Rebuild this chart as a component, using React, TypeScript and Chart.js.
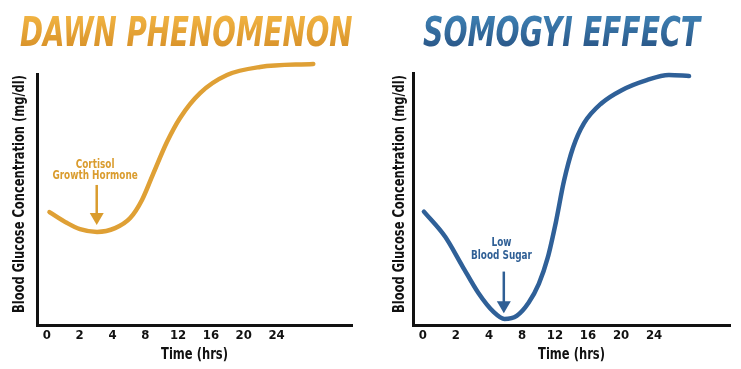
import React, { useEffect, useRef } from 'react';
import { Chart, registerables } from 'chart.js';

Chart.register(...registerables);

// ---- data ----
const tickLabels = ['0', '2', '4', '8', '12', '16', '20', '24'];

// x values are positions along the (evenly spaced) tick slots: 0 -> "0", 1 -> "2", 2 -> "4", 3 -> "8" ...
const dawnX = [0.08, 0.62, 1.01, 1.53, 2.08, 2.54, 2.9, 3.24, 3.66, 4.06, 4.67, 5.49, 6.5, 8.12];
const dawnY = [45.0, 40.6, 38.2, 37.1, 38.6, 42.6, 49.8, 60.2, 72.9, 82.5, 92.4, 99.6, 102.8, 104.0];

const somogyiX = [0.03, 0.67, 1.19, 1.68, 2.14, 2.47, 2.84, 3.2, 3.51, 3.78, 4.03, 4.27, 4.55, 4.88, 5.41, 6.02, 6.78, 7.45, 8.06];
const somogyiY = [45.0, 35.1, 23.5, 12.7, 5.2, 2.4, 3.6, 8.8, 16.3, 26.7, 41.0, 57.0, 70.5, 80.1, 88.0, 93.2, 97.2, 99.2, 98.8];

const dawnNote = ['Cortisol', 'Growth Hormone'];
const dawnNoteY = [64.0, 59.4];
const somogyiNote = ['Low', 'Blood Sugar'];
const somogyiNoteY = [32.5, 27.5];

const xTitle = 'Time (hrs)';
const yTitle = 'Blood Glucose Concentration (mg/dl)';

const FONT = "'DejaVu Sans Condensed', 'DejaVu Sans', sans-serif";
const TITLE_FONT = "'DejaVu Sans', 'Liberation Sans', sans-serif";

function squeezed(ctx: CanvasRenderingContext2D, text: string, x: number, y: number, font: string, sx: number, rot: number) {
  ctx.save();
  ctx.font = font;
  ctx.textAlign = 'center';
  ctx.textBaseline = 'middle';
  ctx.translate(x, y);
  ctx.rotate(rot);
  ctx.scale(sx, 1);
  ctx.fillText(text, 0, 0);
  ctx.restore();
}

const artPlugin = {
  id: 'art',
  afterDraw(chart: any, _args: any, o: any) {
    if (!o || !o.title) return;
    const ctx = chart.ctx as CanvasRenderingContext2D;
    const xs = chart.scales.x;
    const ys = chart.scales.y;
    const area = chart.chartArea;

    // Title, fitted to its box
    ctx.save();
    ctx.font = `italic bold 44px ${TITLE_FONT}`;
    ctx.textAlign = 'left';
    ctx.textBaseline = 'alphabetic';
    const m = ctx.measureText(o.title);
    const w = m.actualBoundingBoxLeft + m.actualBoundingBoxRight;
    const h = m.actualBoundingBoxAscent + m.actualBoundingBoxDescent;
    ctx.translate(o.titleBox[0], o.titleBox[1]);
    ctx.scale(o.titleBox[2] / w, o.titleBox[3] / h);
    const g = ctx.createLinearGradient(0, 0, 0, h);
    g.addColorStop(0, o.titleTop);
    g.addColorStop(1, o.titleBottom);
    ctx.fillStyle = g;
    ctx.fillText(o.title, m.actualBoundingBoxLeft, m.actualBoundingBoxAscent);
    ctx.restore();

    // axis titles (condensed)
    ctx.fillStyle = '#111';
    squeezed(ctx, xTitle, (area.left + area.right) / 2, 355, `bold 16px ${FONT}`, 0.8, 0);
    squeezed(ctx, yTitle, o.yTitleX, 194, `bold 15px ${FONT}`, 0.85, -Math.PI / 2);

    // note text
    ctx.fillStyle = o.noteColor;
    const nx = xs.getPixelForValue(o.noteX);
    o.note.forEach((t: string, i: number) =>
      squeezed(ctx, t, nx, ys.getPixelForValue(o.noteY[i]), `bold 13px ${FONT}`, 0.76, 0)
    );

    // arrow
    ctx.save();
    const ax = xs.getPixelForValue(o.arrowX);
    const y0 = ys.getPixelForValue(o.arrowFrom);
    const y1 = ys.getPixelForValue(o.arrowTo);
    const headH = 12;
    ctx.strokeStyle = o.noteColor;
    ctx.fillStyle = o.noteColor;
    ctx.lineWidth = 2.5;
    ctx.beginPath();
    ctx.moveTo(ax, y0);
    ctx.lineTo(ax, y1 - headH + 1);
    ctx.stroke();
    ctx.beginPath();
    ctx.moveTo(ax - 7, y1 - headH);
    ctx.lineTo(ax + 7, y1 - headH);
    ctx.lineTo(ax, y1);
    ctx.closePath();
    ctx.fill();
    ctx.restore();
  },
};

type PanelCfg = {
  xs: number[];
  ys: number[];
  color: string;
  padTop: number;
  padRight: number;
  yWidth: number;
  art: any;
};

function Panel({ cfg, width }: { cfg: PanelCfg; width: number }) {
  const ref = useRef<HTMLCanvasElement>(null);
  useEffect(() => {
    const chart = new Chart(ref.current as HTMLCanvasElement, {
      type: 'line',
      data: {
        datasets: [
          {
            data: cfg.xs.map((x, i) => ({ x, y: cfg.ys[i] })),
            borderColor: cfg.color,
            borderWidth: 4.5,
            pointRadius: 0,
            cubicInterpolationMode: 'monotone',
            clip: false as any,
            borderCapStyle: 'round',
            borderJoinStyle: 'round',
          },
        ],
      },
      options: {
        responsive: false,
        animation: false,
        devicePixelRatio: 1,
        layout: { padding: { top: cfg.padTop, right: cfg.padRight, left: 0, bottom: 0 } },
        plugins: {
          legend: { display: false },
          tooltip: { enabled: false },
          art: cfg.art,
        } as any,
        scales: {
          x: {
            type: 'linear',
            min: -0.3,
            max: 9.3,
            grid: { display: false, drawTicks: false },
            border: { display: true, color: '#111', width: 3 },
            afterBuildTicks: (s: any) => {
              s.ticks = tickLabels.map((_, i) => ({ value: i }));
            },
            afterFit: (s: any) => {
              s.height = 44;
            },
            ticks: {
              autoSkip: false,
              maxRotation: 0,
              padding: 3,
              color: '#111',
              font: { family: FONT, size: 13, weight: 'bold' },
              callback: (v: any) => tickLabels[Math.round(Number(v))] ?? '',
            },
            title: { display: false, text: xTitle },
          },
          y: {
            type: 'linear',
            min: 0,
            max: 100,
            grid: { display: false, drawTicks: false },
            border: { display: true, color: '#111', width: 3 },
            ticks: { display: false },
            afterFit: (s: any) => {
              s.width = cfg.yWidth;
            },
            title: { display: false, text: yTitle },
          },
        },
      } as any,
      plugins: [artPlugin],
    });
    return () => chart.destroy();
  }, []);
  return <canvas ref={ref} width={width} height={369} style={{ display: 'block' }} />;
}

const dawnCfg: PanelCfg = {
  xs: dawnX,
  ys: dawnY,
  color: '#DFA035',
  padTop: 74,
  padRight: 18,
  yWidth: 37,
  art: {
    title: 'DAWN PHENOMENON',
    titleBox: [20, 14, 332, 33],
    titleTop: '#F2B544',
    titleBottom: '#D9932A',
    yTitleX: 20,
    note: dawnNote,
    noteY: dawnNoteY,
    noteX: 1.47,
    noteColor: '#DA9C2E',
    arrowX: 1.52,
    arrowFrom: 55.8,
    arrowTo: 39.8,
  },
};

const somogyiCfg: PanelCfg = {
  xs: somogyiX,
  ys: somogyiY,
  color: '#2F6098',
  padTop: 73,
  padRight: 11,
  yWidth: 43,
  art: {
    title: 'SOMOGYI EFFECT',
    titleBox: [53, 14, 279, 33],
    titleTop: '#3F82B5',
    titleBottom: '#2A5889',
    yTitleX: 30,
    note: somogyiNote,
    noteY: somogyiNoteY,
    noteX: 2.38,
    noteColor: '#2F5F95',
    arrowX: 2.45,
    arrowFrom: 21.2,
    arrowTo: 4.7,
  },
};

export default function App() {
  return (
    <div style={{ position: 'absolute', left: 0, top: 0, width: 741, height: 369, display: 'flex', background: '#fff' }}>
      <Panel cfg={dawnCfg} width={370} />
      <Panel cfg={somogyiCfg} width={371} />
    </div>
  );
}
